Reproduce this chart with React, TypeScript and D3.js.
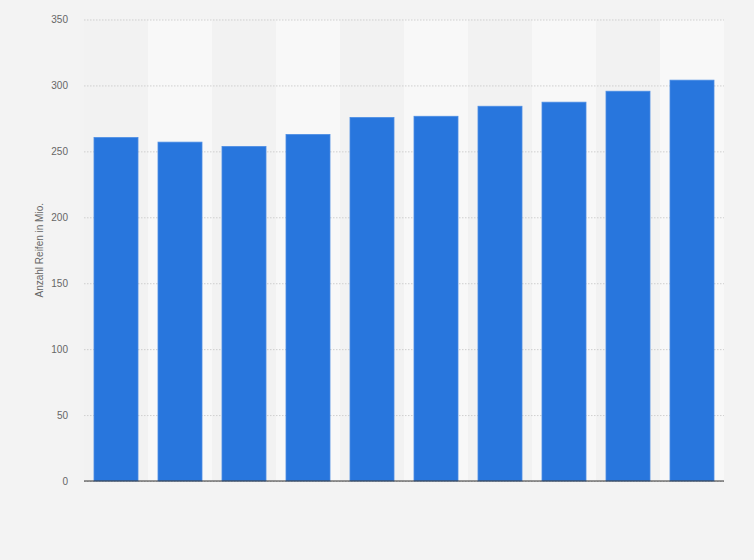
import React, { useEffect, useRef } from "react";
import * as d3 from "d3";

const categories = ["2010", "2011", "2012", "2013", "2014", "2015", "2016", "2017", "2018", "2019"];
const values = [260.5, 257, 253.7, 262.8, 275.7, 276.6, 284.2, 287.3, 295.6, 304];
const yTicks = [0, 50, 100, 150, 200, 250, 300, 350];
const yLabel = "Anzahl Reifen in Mio.";

const width = 754;
const height = 560;
const margin = { top: 19.5, right: 30, bottom: 79, left: 84 };

const App: React.FC = () => {
  const svgRef = useRef<SVGSVGElement | null>(null);

  useEffect(() => {
    const svg = d3.select(svgRef.current);
    svg.selectAll("*").remove();

    const innerWidth = width - margin.left - margin.right;
    const innerHeight = height - margin.top - margin.bottom;

    svg.append("rect")
      .attr("width", width)
      .attr("height", height)
      .attr("fill", "#f3f3f3");

    const g = svg.append("g")
      .attr("transform", `translate(${margin.left},${margin.top})`);

    const x = d3.scaleBand<string>()
      .domain(categories)
      .range([0, innerWidth])
      .paddingInner(0.3125)
      .paddingOuter(0.15625);

    const y = d3.scaleLinear()
      .domain([0, 350])
      .range([innerHeight, 0]);

    // alternating column shading
    const step = x.step();
    g.selectAll(".col-bg")
      .data(categories)
      .join("rect")
      .attr("class", "col-bg")
      .attr("x", (_, i) => i * step)
      .attr("y", 0)
      .attr("width", step)
      .attr("height", innerHeight)
      .attr("fill", (_, i) => (i % 2 === 1 ? "#f8f8f8" : "#f2f2f2"));

    // gridlines + tick labels
    g.append("g")
      .call(d3.axisLeft(y).tickValues(yTicks).tickSize(0).tickPadding(16))
      .call(ax => ax.select(".domain").remove())
      .call(ax => ax.selectAll(".tick line").clone()
        .attr("x2", innerWidth)
        .attr("stroke", "#cfcfcf")
        .attr("stroke-dasharray", "1.5,1.5"))
      .call(ax => ax.selectAll("text")
        .style("font-size", "10px")
        .style("fill", "#666")
        .style("font-family", "Arial, 'Liberation Sans', sans-serif"));

    g.selectAll(".bar")
      .data(values)
      .join("rect")
      .attr("class", "bar")
      .attr("x", (_, i) => x(categories[i])!)
      .attr("y", d => y(d))
      .attr("width", x.bandwidth())
      .attr("height", d => innerHeight - y(d))
      .attr("fill", "#2876dd")
      .attr("stroke", "#4b8de4")
      .attr("stroke-width", 0.8);

    g.append("line")
      .attr("x1", 0)
      .attr("x2", innerWidth)
      .attr("y1", innerHeight)
      .attr("y2", innerHeight)
      .attr("stroke", "#333")
      .attr("stroke-width", 1.2);

    svg.append("text")
      .attr("transform", `translate(43,${margin.top + innerHeight / 2}) rotate(-90)`)
      .attr("text-anchor", "middle")
      .style("font-size", "10px")
      .style("fill", "#666")
      .style("font-family", "Arial, 'Liberation Sans', sans-serif")
      .text(yLabel);
  }, []);

  return (
    <div style={{ position: "absolute", left: 0, top: 0, width, height }}>
      <svg ref={svgRef} width={width} height={height}></svg>
    </div>
  );
};

export default App;
